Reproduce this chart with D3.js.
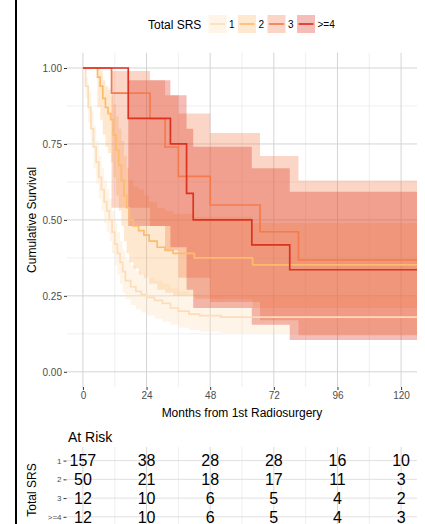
<!DOCTYPE html>
<html><head><meta charset="utf-8">
<script src="https://cdn.jsdelivr.net/npm/d3@7"></script>
<style>
html,body{margin:0;padding:0;background:#fff;}
svg{display:block;font-family:"Liberation Sans",Arial,Helvetica,sans-serif;}
</style></head>
<body><svg id="c" width="425" height="524"></svg>
<script>
// ---- data ----
const groups = ["1", "2", "3", ">=4"];
const xTicks = [0, 24, 48, 72, 96, 120];
const xMinor = [12, 36, 60, 84, 108];
const yTicks = [0, 0.25, 0.5, 0.75, 1];
const yMinor = [0.125, 0.375, 0.625, 0.875];

const time1  = [0, 1, 2, 3, 4, 5, 6, 7, 8, 9, 10, 11, 12, 13, 14, 15, 16, 18, 20, 22, 24, 27, 30, 33, 36, 40, 44, 52, 126];
const surv1  = [1, .94, .87, .80, .74, .69, .64, .60, .56, .53, .50, .46, .42, .39, .36, .33, .30, .28, .265, .255, .245, .235, .225, .21, .20, .19, .185, .18, .18];
const lower1 = [1, .90, .82, .74, .67, .62, .57, .53, .49, .46, .43, .39, .35, .32, .29, .26, .24, .22, .205, .195, .185, .175, .165, .155, .145, .138, .132, .128, .128];
const upper1 = [1, .97, .92, .86, .81, .76, .71, .67, .63, .60, .57, .53, .49, .46, .43, .40, .37, .35, .33, .32, .31, .30, .29, .275, .265, .255, .25, .245, .245];

const time2  = [0, 5.5, 6.5, 7.5, 8.5, 9.5, 10.5, 11.5, 12.5, 13.5, 14.5, 15.5, 16.5, 17.5, 19, 21, 23, 25, 28, 31, 34, 42, 64, 126];
const surv2  = [1, .97, .94, .90, .87, .85, .83, .78, .73, .68, .63, .58, .54, .50, .48, .465, .45, .43, .41, .40, .39, .375, .352, .352];
const lower2 = [1, .87, .83, .78, .74, .72, .69, .64, .58, .53, .48, .43, .39, .36, .34, .32, .31, .29, .27, .26, .25, .24, .21, .21];
const upper2 = [1, 1, .99, .96, .94, .93, .91, .88, .84, .80, .76, .71, .67, .63, .61, .60, .58, .56, .54, .53, .52, .51, .49, .49];

const time3  = [0, 10.8, 25.3, 31, 36, 48, 66.8, 81.3, 126];
const surv3  = [1, .917, .833, .74, .643, .549, .461, .368, .368];
const lower3 = [1, .54, .48, .40, .31, .23, .17, .12, .12];
const upper3 = [1, .99, .96, .91, .85, .786, .71, .63, .63];

const time4  = [0, 17.1, 33, 39.1, 41.6, 63.7, 78, 126];
const surv4  = [1, .834, .75, .587, .5, .418, .336, .336];
const lower4 = [1, .48, .41, .27, .21, .155, .105, .105];
const upper4 = [1, .96, .91, .80, .741, .67, .593, .593];

const atRisk1 = [157, 38, 28, 28, 16, 10];
const atRisk2 = [50, 21, 18, 17, 11, 3];
const atRisk3 = [12, 10, 6, 5, 4, 2];
const atRisk4 = [12, 10, 6, 5, 4, 3];

const lineColors = ["#fddcb8", "#fdbb6c", "#f47b4d", "#dd3220"];

// ---- build ----
const series = [
  {t: time1, s: surv1, lo: lower1, up: upper1},
  {t: time2, s: surv2, lo: lower2, up: upper2},
  {t: time3, s: surv3, lo: lower3, up: upper3},
  {t: time4, s: surv4, lo: lower4, up: upper4}
].map((g, i) => ({name: groups[i], color: lineColors[i],
  pts: g.t.map((t, j) => ({t, s: g.s[j], lo: g.lo[j], up: g.up[j]}))}));
const atRisk = [atRisk1, atRisk2, atRisk3, atRisk4];

const svg = d3.select("#c");
const L = 67, R = 417, T = 52.8, B = 387;
const x = d3.scaleLinear().domain([-6, 126]).range([L, R]);
const y = d3.scaleLinear().domain([-0.05, 1.05]).range([B, T]);

// left border line
svg.append("line").attr("x1", 16).attr("x2", 16).attr("y1", 0).attr("y2", 524)
  .attr("stroke", "#000").attr("stroke-width", 2);

// grid
const grid = svg.append("g");
grid.selectAll(".vmin").data(xMinor).join("line")
  .attr("x1", d => x(d)).attr("x2", d => x(d)).attr("y1", T).attr("y2", B)
  .attr("stroke", "#ebebeb").attr("stroke-width", 0.8);
grid.selectAll(".hmin").data(yMinor).join("line")
  .attr("y1", d => y(d)).attr("y2", d => y(d)).attr("x1", L).attr("x2", R)
  .attr("stroke", "#ebebeb").attr("stroke-width", 0.8);
grid.selectAll(".vmaj").data(xTicks).join("line")
  .attr("x1", d => x(d)).attr("x2", d => x(d)).attr("y1", T).attr("y2", B)
  .attr("stroke", "#d4d4d4").attr("stroke-width", 1);
grid.selectAll(".hmaj").data(yTicks).join("line")
  .attr("y1", d => y(d)).attr("y2", d => y(d)).attr("x1", L).attr("x2", R)
  .attr("stroke", "#d4d4d4").attr("stroke-width", 1);

// ribbons
const area = d3.area().curve(d3.curveStepAfter)
  .x(d => x(d.t)).y0(d => y(d.lo)).y1(d => y(d.up));
svg.append("g").selectAll("path").data(series).join("path")
  .attr("d", d => area(d.pts)).attr("fill", d => d.color).attr("fill-opacity", 0.32);

// lines
const line = d3.line().curve(d3.curveStepAfter).x(d => x(d.t)).y(d => y(d.s));
svg.append("g").selectAll("path").data(series).join("path")
  .attr("d", d => line(d.pts)).attr("fill", "none").attr("stroke", d => d.color)
  .attr("stroke-width", 1.7);

// axes
function styleAxis(g, size) {
  g.select(".domain").remove();
  g.selectAll(".tick line").attr("stroke", "#333").attr("stroke-width", 1);
  g.selectAll(".tick text").attr("fill", "#4d4d4d").style("font-size", size + "px")
    .style("font-family", '"Liberation Sans",Arial,sans-serif');
}
svg.append("g").attr("transform", `translate(${L},0)`)
  .call(d3.axisLeft(y).tickValues(yTicks).tickFormat(d3.format(".2f")).tickSize(3).tickPadding(2))
  .call(g => styleAxis(g, 10));
svg.append("g").attr("transform", `translate(0,${B})`)
  .call(d3.axisBottom(x).tickValues(xTicks).tickSize(3).tickPadding(2))
  .call(g => styleAxis(g, 10));

svg.append("text").attr("x", (L + R) / 2).attr("y", 416.5).attr("text-anchor", "middle")
  .style("font-size", "12px").attr("fill", "#000").text("Months from 1st Radiosurgery");
svg.append("text").attr("transform", `translate(36,${(T + B) / 2}) rotate(-90)`)
  .attr("text-anchor", "middle").style("font-size", "12px").attr("fill", "#000")
  .text("Cumulative Survival");

// legend
const leg = svg.append("g");
leg.append("text").attr("x", 148).attr("y", 28.5).style("font-size", "12px").text("Total SRS");
const keyX = [208.5, 238, 267.5, 297];
const kg = leg.selectAll(".key").data(series).join("g")
  .attr("transform", (d, i) => `translate(${keyX[i]},15)`);
kg.append("rect").attr("width", 18).attr("height", 18).attr("fill", d => d.color).attr("fill-opacity", 0.32);
kg.append("line").attr("x1", 1.5).attr("x2", 16.5).attr("y1", 9).attr("y2", 9)
  .attr("stroke", d => d.color).attr("stroke-width", 1.7);
kg.append("text").attr("x", 20.5).attr("y", 12.6).style("font-size", "10px").text(d => d.name);

// at risk table
svg.append("text").attr("x", 68).attr("y", 441.5).style("font-size", "14px").text("At Risk");
const TT = 447, TB = 524;
const ry = d3.scalePoint().domain(groups).range([460.6, 516.8]);
const tg = svg.append("g");
tg.selectAll(".tvmin").data(xMinor).join("line")
  .attr("x1", d => x(d)).attr("x2", d => x(d)).attr("y1", TT).attr("y2", TB)
  .attr("stroke", "#ebebeb").attr("stroke-width", 0.8);
tg.selectAll(".tvmaj").data(xTicks).join("line")
  .attr("x1", d => x(d)).attr("x2", d => x(d)).attr("y1", TT).attr("y2", TB)
  .attr("stroke", "#d9d9d9").attr("stroke-width", 1);
tg.selectAll(".th").data(groups).join("line")
  .attr("y1", d => ry(d)).attr("y2", d => ry(d)).attr("x1", L).attr("x2", R)
  .attr("stroke", "#e0e0e0").attr("stroke-width", 1);
svg.append("g").attr("transform", `translate(${L - 0.5},0)`)
  .call(d3.axisLeft(ry).tickSize(3).tickPadding(2))
  .call(g => styleAxis(g, 8));
groups.forEach((gname, i) => {
  svg.append("g").selectAll("text").data(atRisk[i]).join("text")
    .attr("x", (d, j) => x(xTicks[j])).attr("y", ry(gname) + 5.7)
    .attr("text-anchor", "middle").style("font-size", "16px").attr("fill", "#000")
    .text(d => d);
});
svg.append("text").attr("transform", `translate(35.5,490) rotate(-90)`)
  .attr("text-anchor", "middle").style("font-size", "12px").attr("fill", "#000").text("Total SRS");
</script></body></html>
